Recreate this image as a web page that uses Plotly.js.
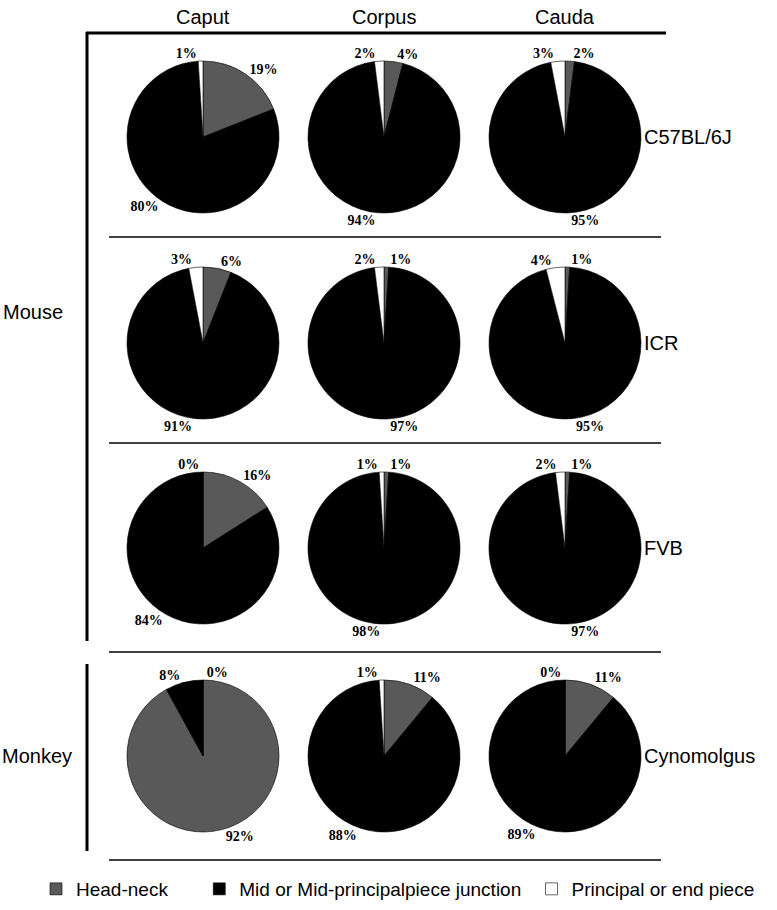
<!DOCTYPE html>
<html>
<head>
<meta charset="utf-8">
<script src="https://cdn.plot.ly/plotly-3.0.1.min.js"></script>
<style>
  html, body { margin: 0; padding: 0; background: #fff; }
  #chart { width: 777px; height: 910px; }
</style>
</head>
<body>
<div id="chart"></div>
<script>
// data (percent of sperm per segment)
var regions = ['Caput', 'Corpus', 'Cauda'];
var strains = ['C57BL/6J', 'ICR', 'FVB', 'Cynomolgus'];
var parts = ['Head-neck', 'Mid or Mid-principalpiece junction', 'Principal or end piece'];

// rows = strains, cols = regions
var headNeck  = [[19, 4, 2], [6, 1, 1], [16, 1, 1], [92, 11, 11]];
var midPiece  = [[80, 94, 95], [91, 97, 95], [84, 98, 97], [8, 88, 89]];
var principal = [[1, 2, 3], [3, 2, 4], [0, 1, 2], [0, 1, 0]];

var partColors = ['#595959', '#000000', '#ffffff'];

// legend entries in the figure sit further apart than plotly's default gap,
// so pad the labels with a few non-breaking spaces
var legendPad = [5, 1, 0];
var legendLabels = parts.map(function (p, i) {
    return p + new Array(legendPad[i] + 1).join('\u00a0');
});

// page geometry (px)
var W = 777, H = 910;
var colX = [203, 384, 565];
var rowY = [137, 343, 548, 756];
var R = 76;

function fx(px) { return px / W; }
function fy(py) { return 1 - py / H; }

var data = [];
for (var r = 0; r < strains.length; r++) {
    for (var c = 0; c < regions.length; c++) {
        data.push({
            type: 'pie',
            name: strains[r] + ' ' + regions[c],
            labels: legendLabels,
            values: [headNeck[r][c], midPiece[r][c], principal[r][c]],
            sort: false,
            direction: 'clockwise',
            rotation: 0,
            marker: {colors: partColors, line: {color: '#000', width: 0.6}},
            textposition: 'outside',
            texttemplate: '%{value}%',
            outsidetextfont: {family: 'Liberation Serif, Times New Roman, serif', size: 14, color: '#000', weight: 'bold'},
            hoverinfo: 'label+value',
            showlegend: r === 0 && c === 0,
            domain: {
                x: [fx(colX[c] - R), fx(colX[c] + R)],
                y: [fy(rowY[r] + R), fy(rowY[r] - R)]
            }
        });
    }
}

var txtFont = {family: 'Liberation Sans, Arial, sans-serif', size: 20, color: '#000'};
var annotations = [];
regions.forEach(function (t, i) {
    annotations.push({text: t, x: fx(colX[i]), y: fy(17), xref: 'paper', yref: 'paper',
        showarrow: false, xanchor: 'center', yanchor: 'middle', font: txtFont});
});
strains.forEach(function (t, i) {
    annotations.push({text: t, x: fx(642), y: fy(rowY[i]), xref: 'paper', yref: 'paper',
        showarrow: false, xanchor: 'left', yanchor: 'middle', font: txtFont});
});
annotations.push({text: 'Mouse', x: fx(33), y: fy(312), xref: 'paper', yref: 'paper',
    showarrow: false, xanchor: 'center', yanchor: 'middle', font: txtFont});
annotations.push({text: 'Monkey', x: fx(37), y: fy(756), xref: 'paper', yref: 'paper',
    showarrow: false, xanchor: 'center', yanchor: 'middle', font: txtFont});

function seg(x0, y0, x1, y1, w) {
    return {type: 'line', xref: 'paper', yref: 'paper',
        x0: fx(x0), y0: fy(y0), x1: fx(x1), y1: fy(y1),
        line: {color: '#000', width: w}};
}
var shapes = [
    seg(86, 33, 666, 33, 3),
    seg(87, 32, 87, 641, 3),
    seg(87, 664, 87, 851, 3),
    seg(109, 237, 661, 237, 1.5),
    seg(109, 443, 661, 443, 1.5),
    seg(109, 652, 661, 652, 1.5),
    seg(109, 860, 661, 860, 1.5)
];

var layout = {
    width: W,
    height: H,
    margin: {l: 0, r: 0, t: 0, b: 0},
    paper_bgcolor: '#fff',
    showlegend: true,
    legend: {
        orientation: 'h',
        x: fx(36),
        y: fy(870),
        xanchor: 'left',
        yanchor: 'top',
        font: {family: 'Liberation Sans, Arial, sans-serif', size: 19, color: '#000'},
        traceorder: 'normal'
    },
    annotations: annotations,
    shapes: shapes
};

Plotly.newPlot('chart', data, layout, {displayModeBar: false});
</script>
</body>
</html>
